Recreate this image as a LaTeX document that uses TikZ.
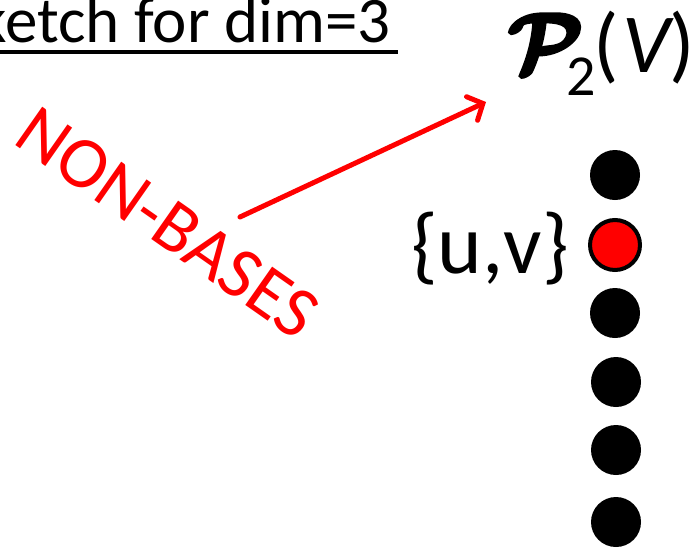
\documentclass[tikz,border=0pt]{standalone}
\usepackage{amsmath}
\usepackage{bm}
\usepackage{fontspec}
\setmainfont{Carlito}
\usetikzlibrary{arrows.meta}
\begin{document}
\begin{tikzpicture}[x=1pt,y=-1pt,
  dot/.style={circle,fill=black,minimum size=50pt,inner sep=0pt},
  reddot/.style={circle,fill=red,draw=black,line width=4pt,minimum size=50pt,inner sep=0pt},
  redline/.style={draw=red,line width=5pt,line cap=round},
  txt/.style={inner sep=0pt}]
\useasboundingbox (0,0) rectangle (695,549);
\node[txt,anchor=base east] (title) at (391,42) {\fontsize{65}{65}\selectfont Sketch for dim=3};
\draw[line width=4pt] (0,52) -- (398,52);
\node[txt,anchor=south west] (P) at (508,72) {\special{pdf:literal direct 2 Tr 0.45 w}\scalebox{8.4}{$\bm{\mathcal{P}}$}};
\node[txt,anchor=base west] (sub) at (566,95) {\fontsize{58}{58}\selectfont 2};
\node[txt,anchor=base west] (V) at (593,72) {\fontsize{84}{84}\selectfont(\kern4pt\textit{V}\kern-5pt)};
\node[txt,anchor=base east] (uv) at (569,273) {\fontsize{85}{85}\selectfont\{u,v\}};
\node[txt,text=red,rotate=-35] (nb) at (168,223) {\fontsize{73}{73}\selectfont NON-BASES};
\node[dot] (d1) at (615,175) {};
\node[reddot] (d2) at (615,245) {};
\node[dot] (d3) at (615,313) {};
\node[dot] (d4) at (616,382) {};
\node[dot] (d5) at (616,450) {};
\node[dot] (d6) at (616,522) {};
\coordinate (as) at (240,217);
\coordinate (ae) at (486,102);
\draw[redline,-{Straight Barb[length=12pt,width=26pt,line cap=round]}] (as) -- (ae);
\end{tikzpicture}
\end{document}
